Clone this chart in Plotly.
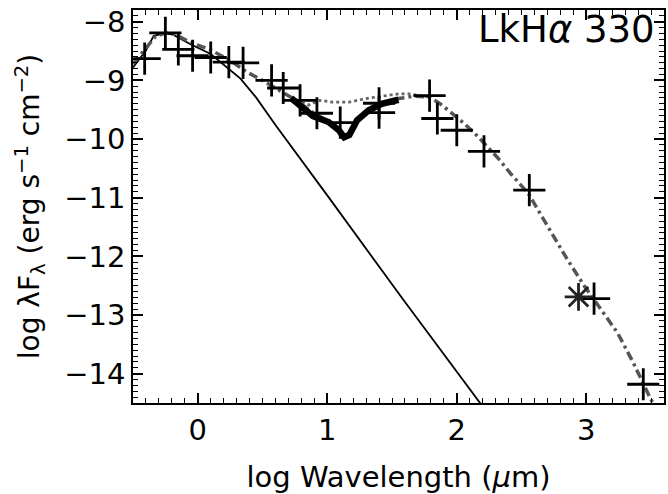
import numpy as np
import plotly.graph_objects as go

# Photometry (log wavelength [um], log lambda F_lambda)
obs_x = [-0.41, -0.25, -0.15, -0.04, 0.10, 0.24, 0.35, 0.57, 0.66, 0.79, 0.92,
         1.10, 1.40, 1.40, 1.79, 1.85, 2.00, 2.21, 2.56, 3.06, 3.44]
obs_y = [-8.63, -8.19, -8.47, -8.58, -8.61, -8.69, -8.70, -9.00, -9.13, -9.34, -9.56,
         -9.72, -9.39, -9.55, -9.26, -9.65, -9.85, -10.21, -10.87, -12.72, -14.18]

# Special point (asterisk)
ast_x = [2.94]
ast_y = [-12.69]

# Stellar photosphere (thin solid)
phot_x = [-0.50, -0.40, -0.34, -0.26, -0.19, -0.06, 0.10, 0.21, 0.33, 0.45, 0.60,
          1.00, 1.58, 2.20]
phot_y = [-8.78, -8.49, -8.24, -8.20, -8.22, -8.38, -8.55, -8.75, -8.97, -9.29, -9.76,
          -10.96, -12.72, -14.56]

# Spectrum (thick solid)
irs_x = [0.72, 0.79, 0.89, 1.01, 1.09, 1.13, 1.17, 1.23, 1.32, 1.42, 1.55]
irs_y = [-9.30, -9.42, -9.61, -9.71, -9.85, -9.97, -9.93, -9.68, -9.51, -9.40, -9.33]

# Model SED (dash-dot)
mod_x = [-0.50, -0.40, -0.33, -0.25, -0.17, -0.06, 0.10, 0.25, 0.38, 0.50, 0.63,
         0.76, 0.89, 1.01, 1.09, 1.14, 1.18, 1.24, 1.34, 1.44, 1.55, 1.67, 1.78,
         1.86, 1.93, 2.06, 2.16, 2.32, 2.42, 2.55, 2.70, 2.85, 2.98, 3.16, 3.24,
         3.36, 3.49, 3.60]
mod_y = [-8.72, -8.46, -8.26, -8.19, -8.22, -8.35, -8.48, -8.66, -8.86, -9.00, -9.17,
         -9.34, -9.55, -9.70, -9.83, -9.95, -9.90, -9.66, -9.49, -9.37, -9.31, -9.27, -9.28,
         -9.38, -9.50, -9.74, -9.95, -10.33, -10.60, -10.92, -11.48, -12.04, -12.49, -13.05, -13.30,
         -13.80, -14.40, -14.85]

# Alternative model (dotted)
dot_x = [0.76, 0.86, 0.94, 1.04, 1.17, 1.30, 1.42, 1.55, 1.63, 1.73, 1.80]
dot_y = [-9.34, -9.42, -9.34, -9.37, -9.37, -9.31, -9.27, -9.23, -9.23, -9.26, -9.29]

x_range = [-0.5, 3.6]
y_range = [-14.5, -7.8]
x_major = [0, 1, 2, 3]
y_major = [-14, -13, -12, -11, -10, -9, -8]
minor_step = 0.1

x_minor = [round(v, 2) for v in np.arange(-0.5, 3.61, minor_step)]
y_minor = [round(v, 2) for v in np.arange(-14.5, -7.79, minor_step)]

FONT = "DejaVu Sans"

fig = go.Figure()
fig.add_trace(go.Scatter(x=phot_x, y=phot_y, mode="lines",
                         line=dict(color="black", width=1.8), showlegend=False))
fig.add_trace(go.Scatter(x=dot_x, y=dot_y, mode="lines",
                         line=dict(color="#666666", width=2.8, dash="dot"), showlegend=False))
fig.add_trace(go.Scatter(x=mod_x, y=mod_y, mode="lines",
                         line=dict(color="#555555", width=3.5, dash="9px,4px,3px,4px"),
                         showlegend=False))
fig.add_trace(go.Scatter(x=irs_x, y=irs_y, mode="lines",
                         line=dict(color="black", width=6.5), showlegend=False))
fig.add_trace(go.Scatter(x=obs_x, y=obs_y, mode="markers",
                         marker=dict(symbol="cross-thin", size=23, color="black",
                                     line=dict(color="black", width=2.8)),
                         showlegend=False))
fig.add_trace(go.Scatter(x=ast_x, y=ast_y, mode="markers",
                         marker=dict(symbol="asterisk-open", size=23, color="#222222",
                                     line=dict(color="#222222", width=2.8)),
                         showlegend=False))
# invisible trace anchoring the overlay axes that carry the minor ticks
fig.add_trace(go.Scatter(x=[x_range[0]], y=[y_range[0]], xaxis="x2", yaxis="y2",
                         mode="markers", marker=dict(opacity=0), hoverinfo="skip",
                         showlegend=False))

base = dict(showgrid=False, zeroline=False, showline=True, linecolor="black", linewidth=1.5,
            mirror="allticks", ticks="inside", ticklen=10, tickwidth=1.5, tickcolor="black",
            tickmode="array", tickfont=dict(family=FONT, size=29, color="black"))

minor_axis = dict(showgrid=False, zeroline=False, showline=False, mirror="allticks",
                  ticks="inside", ticklen=5, tickwidth=1.3, tickcolor="black",
                  tickmode="array", showticklabels=False)

fig.update_layout(
    xaxis=dict(range=x_range, tickvals=x_major, ticktext=[str(v) for v in x_major],
               title=dict(text="log Wavelength (<i>μ</i>m)",
                          font=dict(family=FONT, size=29, color="black"), standoff=25),
               **base),
    yaxis=dict(range=y_range, tickvals=y_major,
               ticktext=["\u2212" + str(abs(v)) for v in y_major],
               title=dict(text="log λF<sub>λ</sub> (erg s<sup>−1</sup> cm<sup>−2</sup>)",
                          font=dict(family=FONT, size=28, color="black"), standoff=16),
               **base),
    xaxis2=dict(range=x_range, overlaying="x", side="bottom", anchor="y2",
                tickvals=x_minor, **minor_axis),
    yaxis2=dict(range=y_range, overlaying="y", side="left", anchor="x2",
                tickvals=y_minor, **minor_axis),
)

fig.add_annotation(text="LkH<i>α</i> 330", xref="paper", yref="paper", x=1, y=0.95,
                   xanchor="right", yanchor="middle", xshift=-7, showarrow=False,
                   font=dict(family=FONT, size=37, color="black"))

fig.update_layout(width=668, height=494, margin=dict(l=133, r=2, t=10, b=89),
                  plot_bgcolor="white", paper_bgcolor="white")

fig.write_html("out.html")
